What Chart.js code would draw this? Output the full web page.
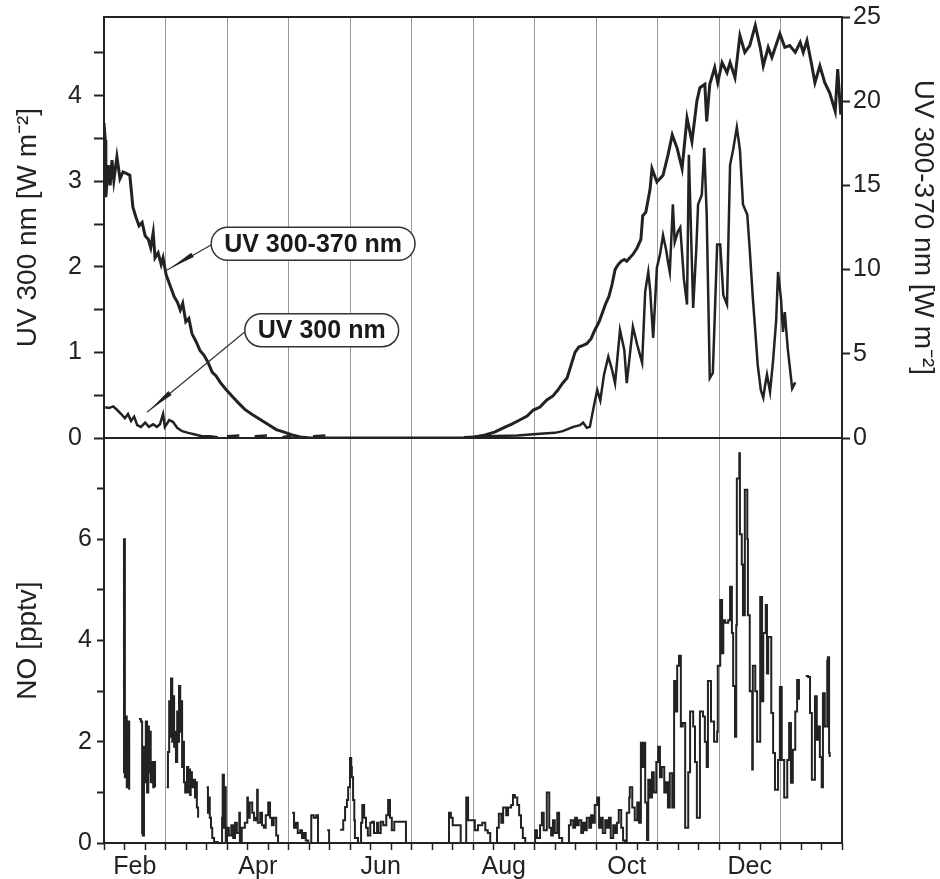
<!DOCTYPE html>
<html>
<head>
<meta charset="utf-8">
<script src="https://cdn.jsdelivr.net/npm/chart.js@4.4.1/dist/chart.umd.min.js"></script>
<style>
  html, body { margin: 0; padding: 0; background: #fff; }
  #wrap { position: relative; width: 940px; height: 879px; overflow: hidden; }
  #wrap canvas { position: absolute; left: 0; }
</style>
</head>
<body>
<div id="wrap">
  <canvas id="uvChart" width="940" height="475" style="top:-10px"></canvas>
  <canvas id="noChart" width="940" height="461" style="top:418px"></canvas>
</div>
<script>
// x is measured in months from 1 Feb (0) to 1 Feb next year (12)
const monthLabels = ['Feb', 'Apr', 'Jun', 'Aug', 'Oct', 'Dec'];
const monthLabelAt = [0.5, 2.5, 4.5, 6.5, 8.5, 10.5];

const uvLeftTicks = [0, 0.5, 1, 1.5, 2, 2.5, 3, 3.5, 4, 4.5];
const uvRightTicks = [0, 5, 10, 15, 20, 25];
const noTicks = [0, 1, 2, 3, 4, 5, 6, 7];

// UV 300-370 nm [W m-2], right axis
const uv370Data = [
  [0.00, 18.7], [0.02, 17.7], [0.03, 14.3], [0.07, 16.2], [0.10, 15.0], [0.13, 16.5], [0.16, 15.3],
  [0.21, 16.7], [0.26, 15.4], [0.31, 15.8], [0.37, 15.7], [0.42, 15.6], [0.47, 13.7], [0.52, 13.1],
  [0.57, 12.6], [0.62, 12.8], [0.67, 12.0], [0.72, 11.8], [0.76, 11.3], [0.80, 12.2], [0.83, 10.7],
  [0.88, 11.0], [0.93, 10.3], [0.96, 10.7], [1.01, 9.7], [1.07, 9.1], [1.14, 8.4], [1.19, 8.1],
  [1.24, 7.6], [1.28, 8.0], [1.33, 6.9], [1.38, 7.1], [1.43, 6.2], [1.50, 5.7], [1.56, 5.2],
  [1.63, 4.9], [1.69, 4.5], [1.76, 3.9], [1.82, 3.7], [1.89, 3.3], [1.98, 2.9], [2.08, 2.5],
  [2.18, 2.1], [2.29, 1.7], [2.41, 1.4], [2.54, 1.1], [2.67, 0.8], [2.80, 0.5], [2.93, 0.35],
  [3.06, 0.18], [3.19, 0.06], [3.35, 0], [4.0, 0], [5.0, 0], [6.0, 0],
  [6.03, 0.06], [6.20, 0.18], [6.36, 0.36], [6.52, 0.65], [6.63, 0.83], [6.76, 1.07], [6.88, 1.3],
  [6.98, 1.66], [7.09, 1.84], [7.20, 2.26], [7.30, 2.5], [7.38, 2.85], [7.46, 3.27], [7.53, 3.56],
  [7.58, 4.16], [7.66, 5.1], [7.72, 5.4], [7.79, 5.5], [7.85, 5.6], [7.92, 5.9], [7.98, 6.4],
  [8.05, 6.9], [8.11, 7.5], [8.16, 8.0], [8.21, 8.4], [8.26, 9.1], [8.31, 10.0], [8.36, 10.3],
  [8.41, 10.5], [8.46, 10.6], [8.50, 10.5], [8.55, 10.7], [8.60, 10.9], [8.67, 11.3], [8.73, 11.8],
  [8.76, 13.2], [8.81, 13.4], [8.88, 14.8], [8.91, 16.0], [8.99, 15.2], [9.09, 15.6], [9.17, 16.8],
  [9.24, 18.0], [9.32, 17.2], [9.40, 16.0], [9.48, 19.0], [9.56, 17.6], [9.64, 20.0], [9.69, 20.8],
  [9.77, 21.0], [9.80, 18.8], [9.85, 21.0], [9.93, 22.0], [9.98, 21.1], [10.05, 22.3], [10.13, 21.7],
  [10.18, 22.3], [10.26, 21.4], [10.34, 23.9], [10.42, 22.9], [10.50, 23.3], [10.59, 24.5],
  [10.67, 23.2], [10.72, 22.1], [10.80, 23.2], [10.86, 22.6], [10.99, 24.0], [11.07, 23.2],
  [11.15, 23.3], [11.24, 22.9], [11.32, 23.5], [11.37, 22.9], [11.43, 23.6], [11.51, 22.1],
  [11.56, 21.1], [11.64, 22.1], [11.72, 21.1], [11.80, 20.5], [11.89, 19.4], [11.93, 21.9], [11.98, 19.2]
];

// UV 300 nm [W m-2], left axis (null = no data)
const uv300Data = [
  [0.02, 0.36], [0.08, 0.35], [0.15, 0.37], [0.21, 0.33], [0.28, 0.28], [0.34, 0.23], [0.39, 0.28],
  [0.44, 0.20], [0.49, 0.25], [0.54, 0.15], [0.60, 0.13], [0.67, 0.18], [0.73, 0.13], [0.80, 0.16],
  [0.86, 0.13], [0.91, 0.16], [0.96, 0.28], [0.99, 0.13], [1.06, 0.21], [1.12, 0.19], [1.19, 0.12],
  [1.27, 0.08], [1.37, 0.06], [1.48, 0.04], [1.59, 0.02], [1.72, 0.02], [1.85, 0.01], [1.90, null],
  [2.00, 0.02], [2.20, 0.03], [2.25, null], [2.45, 0.02], [2.65, 0.03], [2.70, null],
  [2.90, 0.01], [3.05, 0.03], [3.10, null], [3.40, 0.02], [3.60, 0.03], [3.65, null],
  [5.85, 0.01], [6.20, 0.02], [6.72, 0.03], [7.09, 0.05], [7.33, 0.06], [7.46, 0.08], [7.63, 0.13],
  [7.74, 0.15], [7.79, 0.18], [7.85, 0.12], [7.90, 0.13], [7.97, 0.39], [8.02, 0.56], [8.07, 0.44],
  [8.13, 0.74], [8.20, 0.95], [8.26, 0.80], [8.31, 0.64], [8.39, 1.26], [8.46, 1.03], [8.50, 0.64],
  [8.55, 0.97], [8.60, 1.30], [8.67, 1.09], [8.75, 0.88], [8.80, 1.71], [8.85, 1.94], [8.88, 1.73],
  [8.93, 1.17], [8.99, 1.99], [9.04, 2.14], [9.09, 2.37], [9.14, 2.20], [9.17, 2.06], [9.20, 1.94],
  [9.25, 2.73], [9.28, 2.29], [9.33, 2.41], [9.37, 2.46], [9.43, 1.85], [9.48, 1.56], [9.51, 3.31],
  [9.58, 1.52], [9.63, 2.20], [9.66, 2.73], [9.72, 2.84], [9.76, 3.39], [9.80, 2.61], [9.85, 0.70],
  [9.90, 0.76], [9.97, 2.26], [10.02, 2.26], [10.07, 1.67], [10.13, 1.56], [10.18, 3.19], [10.23, 3.37],
  [10.29, 3.63], [10.34, 3.37], [10.39, 2.73], [10.46, 2.61], [10.50, 2.20], [10.55, 1.64], [10.60, 1.15],
  [10.63, 0.85], [10.68, 0.56], [10.72, 0.47], [10.75, 0.62], [10.78, 0.74], [10.83, 0.54], [10.88, 0.91],
  [10.93, 1.38], [10.96, 1.94], [11.01, 1.61], [11.04, 1.24], [11.07, 1.47], [11.12, 1.03], [11.19, 0.58],
  [11.24, 0.65]
];

// NO [pptv] (null = no data)
const noData = [
  [0.31, 1.4], [0.325, 6.0], [0.34, 1.3], [0.355, 2.5], [0.37, 1.1], [0.39, 2.4], [0.41, 1.05], [0.45, null],
  [0.57, 2.45], [0.60, 2.4], [0.62, 0.2], [0.63, 0.15], [0.65, 1.9], [0.67, 1.2], [0.68, 2.4], [0.70, 1.0],
  [0.72, 2.3], [0.73, 1.4], [0.75, 2.2], [0.76, 1.2], [0.78, 1.6], [0.80, 1.1], [0.81, 1.6], [0.83, 1.1],
  [0.86, null],
  [1.02, 1.1], [1.04, 1.8], [1.06, 2.8], [1.07, 2.1], [1.09, 3.25], [1.11, 2.0], [1.12, 2.9], [1.14, 1.9],
  [1.15, 2.2], [1.17, 1.6], [1.19, 2.6], [1.20, 2.0], [1.22, 3.1], [1.24, 2.2], [1.25, 2.8], [1.27, 1.5],
  [1.28, 2.0], [1.30, 1.2], [1.32, 1.0], [1.35, 1.5], [1.37, 1.0], [1.38, 1.45], [1.40, 0.95], [1.41, 1.4],
  [1.43, 1.1], [1.46, 1.25], [1.48, 0.9], [1.50, 1.2], [1.51, 0.7], [1.53, 0.5], [1.56, null],
  [1.67, 1.1], [1.69, 0.6], [1.71, 0.9], [1.72, 0.5], [1.74, 0.3], [1.76, 0.1], [1.79, 0.02], [1.85, 0.0],
  [1.92, 0.5], [1.93, 1.35], [1.95, 0.3], [1.97, 1.1], [1.98, 0.0], [2.00, 0.3], [2.03, 0.15], [2.07, 0.35],
  [2.10, 0.1], [2.13, 0.4], [2.16, 0.2], [2.20, 0.6], [2.21, 0.0], [2.24, 0.3], [2.29, 0.4], [2.33, 0.9],
  [2.34, 0.5], [2.37, 0.8], [2.41, 0.6], [2.44, 0.45], [2.47, 0.5], [2.49, 1.05], [2.50, 0.4], [2.54, 0.6],
  [2.57, 0.35], [2.60, 0.3], [2.63, 0.55], [2.67, 0.8], [2.70, 0.5], [2.73, 0.35], [2.76, 0.5], [2.80, 0.15],
  [2.83, 0.0], [2.86, null],
  [3.06, 0.6], [3.09, 0.3], [3.12, 0.4], [3.15, 0.2], [3.19, 0.25], [3.22, 0.1], [3.25, 0.2], [3.28, 0.05],
  [3.32, 0.0], [3.37, 0.55], [3.41, 0.5], [3.45, 0.55], [3.48, 0.0], [3.52, null], [3.63, 0.25], [3.66, 0.0],
  [3.70, null],
  [3.84, 0.26], [3.89, 0.45], [3.92, 0.71], [3.95, 0.85], [3.97, 1.1], [4.00, 1.68], [4.02, 1.5], [4.03, 1.3],
  [4.05, 0.85], [4.07, 0.45], [4.08, 0.1], [4.13, 0.0], [4.18, 0.4], [4.20, 0.75], [4.23, 0.5], [4.26, 0.3],
  [4.29, 0.15], [4.33, 0.4], [4.36, 0.42], [4.39, 0.2], [4.44, 0.4], [4.46, 0.2], [4.50, 0.42], [4.54, 0.35],
  [4.59, 0.55], [4.62, 0.85], [4.65, 0.5], [4.68, 0.25], [4.72, 0.42], [4.76, 0.42], [4.81, 0.42], [4.89, 0.42],
  [4.91, 0.0], [4.94, null],
  [5.59, 0.0], [5.61, 0.6], [5.64, 0.5], [5.67, 0.35], [5.79, 0.35], [5.80, 0.0], [5.84, 0.0], [5.89, 0.9],
  [5.92, 0.45], [5.98, 0.45], [6.03, 0.25], [6.08, 0.35], [6.15, 0.4], [6.20, 0.25], [6.24, 0.2], [6.28, 0.0],
  [6.34, 0.0], [6.39, 0.3], [6.42, 0.58], [6.46, 0.4], [6.49, 0.7], [6.54, 0.55], [6.57, 0.7], [6.62, 0.75],
  [6.65, 0.95], [6.68, 0.9], [6.72, 0.75], [6.75, 0.55], [6.78, 0.3], [6.81, 0.1], [6.85, 0.0], [6.98, 0.0],
  [7.01, 0.25], [7.04, 0.1], [7.09, 0.35], [7.12, 0.6], [7.15, 0.25], [7.20, 1.0], [7.24, 0.3], [7.27, 0.15],
  [7.30, 0.45], [7.33, 0.2], [7.37, 0.6], [7.40, 0.1], [7.45, 0.0], [7.53, 0.0], [7.56, 0.35], [7.59, 0.45],
  [7.63, 0.3], [7.66, 0.5], [7.69, 0.35], [7.72, 0.45], [7.76, 0.2], [7.79, 0.4], [7.82, 0.25], [7.85, 0.5],
  [7.89, 0.3], [7.92, 0.55], [7.95, 0.4], [7.98, 0.75], [8.02, 0.9], [8.05, 0.3], [8.08, 0.5], [8.11, 0.2],
  [8.15, 0.45], [8.18, 0.3], [8.21, 0.5], [8.24, 0.1], [8.28, 0.35], [8.31, 0.2], [8.34, 0.4], [8.37, 0.65],
  [8.41, 0.3], [8.44, 0.05], [8.47, 0.0], [8.50, 0.6], [8.54, 0.9], [8.55, 1.1], [8.59, 0.7], [8.63, 0.45],
  [8.67, 0.8], [8.70, 0.4], [8.73, 1.98], [8.76, 1.5], [8.79, 1.98], [8.80, 0.8], [8.83, 0.06], [8.85, 1.25],
  [8.88, 0.9], [8.91, 1.4], [8.94, 1.0], [8.98, 1.6], [9.01, 1.9], [9.04, 1.3], [9.07, 1.5], [9.11, 1.0],
  [9.14, 1.2], [9.17, 0.7], [9.20, 1.38], [9.24, 0.7], [9.27, 3.2], [9.30, 2.6], [9.32, 3.5], [9.35, 3.7],
  [9.38, 2.3], [9.41, 2.37], [9.45, 0.3], [9.50, 1.4], [9.53, 2.6], [9.58, 2.3], [9.61, 1.6], [9.64, 0.5],
  [9.69, 2.6], [9.74, 2.5], [9.77, 2.0], [9.80, 1.5], [9.82, 3.2], [9.87, 2.4], [9.92, 2.0], [9.97, 2.2],
  [9.98, 3.5], [10.02, 4.8], [10.05, 3.75], [10.07, 4.4], [10.10, 4.35], [10.15, 4.4], [10.18, 5.06],
  [10.21, 4.15], [10.23, 3.1], [10.26, 2.1], [10.28, 4.3], [10.29, 7.2], [10.33, 7.7], [10.34, 6.1],
  [10.37, 5.5], [10.39, 4.5], [10.42, 6.98], [10.46, 6.0], [10.47, 4.5], [10.50, 3.0], [10.54, 1.45],
  [10.55, 3.5], [10.59, 3.0], [10.62, 2.0], [10.67, 4.86], [10.70, 2.8], [10.72, 4.15], [10.76, 4.7],
  [10.78, 3.35], [10.80, 4.07], [10.85, 2.57], [10.88, 1.78], [10.91, 1.05], [10.96, 1.64], [10.99, 3.08],
  [11.02, 1.64], [11.06, 0.9], [11.11, 1.64], [11.14, 2.37], [11.17, 1.19], [11.20, 1.84], [11.24, 2.6],
  [11.27, 3.22], [11.30, 2.83], [11.33, null], [11.41, 3.3], [11.45, 3.28], [11.48, 2.57], [11.51, 1.25],
  [11.56, 2.9], [11.59, 2.04], [11.61, 2.3], [11.64, 1.7], [11.67, 1.1], [11.69, 2.96], [11.72, 2.3],
  [11.76, 3.6], [11.77, 3.67], [11.79, 1.78], [11.80, 1.7]
];

// callout boxes: [month, left-axis value] for box centre and arrow tip
const calloutText = ['UV 300-370 nm', 'UV 300 nm'];
const calloutAt = [[3.40, 2.27], [3.54, 1.26]];
const calloutTip = [[1.02, 1.96], [0.70, 0.30]];

const FONT = '"Liberation Sans", Arial, Helvetica, sans-serif';
const INK = '#222';
Chart.defaults.font.family = FONT;
Chart.defaults.color = INK;

// tick positions on the month axis: every third of a month, plus label slots
const xTickAt = [];
for (let k = 0; k <= 36; k++) xTickAt.push(k / 3);
monthLabelAt.forEach(v => xTickAt.push(v));
xTickAt.sort((a, b) => a - b);

const toPoints = arr => arr.map(p => ({ x: p[0], y: p[1] }));

const framePlugin = {
  id: 'frame',
  afterDatasetsDraw(chart) {
    const { ctx, chartArea: a } = chart;
    ctx.save();
    ctx.strokeStyle = INK;
    ctx.lineWidth = 2;
    ctx.strokeRect(a.left, a.top, a.right - a.left, a.bottom - a.top);
    ctx.restore();
  }
};

const calloutPlugin = {
  id: 'callouts',
  afterDatasetsDraw(chart) {
    const { ctx, scales: { x, yL } } = chart;
    ctx.save();
    ctx.font = 'bold 25px ' + FONT;
    calloutText.forEach((text, i) => {
      const cx = x.getPixelForValue(calloutAt[i][0]);
      const cy = yL.getPixelForValue(calloutAt[i][1]);
      const tx = x.getPixelForValue(calloutTip[i][0]);
      const ty = yL.getPixelForValue(calloutTip[i][1]);
      const w = ctx.measureText(text).width + 26, h = 33, r = h / 2;
      const bx = cx - w / 2, by = cy - h / 2;

      // leader line with a narrow arrow near the curve
      ctx.strokeStyle = '#333';
      ctx.lineWidth = 1.2;
      ctx.beginPath();
      ctx.moveTo(bx + 2, cy);
      ctx.lineTo(tx, ty);
      ctx.stroke();
      const dx = bx - tx, dy = cy - ty, len = Math.hypot(dx, dy);
      const ux = dx / len, uy = dy / len, nx = -uy, ny = ux;
      ctx.fillStyle = INK;
      ctx.beginPath();
      ctx.moveTo(tx + ux * 4, ty + uy * 4);
      ctx.lineTo(tx + ux * 30 + nx * 2.5, ty + uy * 30 + ny * 2.5);
      ctx.lineTo(tx + ux * 30 - nx * 2.5, ty + uy * 30 - ny * 2.5);
      ctx.closePath();
      ctx.fill();

      // rounded box
      ctx.beginPath();
      ctx.moveTo(bx + r, by);
      ctx.lineTo(bx + w - r, by);
      ctx.arc(bx + w - r, cy, r, -Math.PI / 2, Math.PI / 2);
      ctx.lineTo(bx + r, by + h);
      ctx.arc(bx + r, cy, r, Math.PI / 2, Math.PI * 1.5);
      ctx.closePath();
      ctx.fillStyle = '#fff';
      ctx.fill();
      ctx.lineWidth = 1.5;
      ctx.strokeStyle = '#333';
      ctx.stroke();

      ctx.fillStyle = '#1a1a1a';
      ctx.textAlign = 'center';
      ctx.textBaseline = 'middle';
      ctx.fillText(text, cx, cy + 1);
    });
    ctx.restore();
  }
};

function monthAxis(showTicks) {
  return {
    type: 'linear',
    min: 0,
    max: 12,
    afterBuildTicks: s => { s.ticks = xTickAt.map(v => ({ value: v })); },
    afterFit: s => { s.height = showTicks ? 36 : 0; },
    border: { display: false },
    grid: {
      color: c => (c.tick && Number.isInteger(c.tick.value)) ? '#9a9a9a' : 'rgba(0,0,0,0)',
      lineWidth: 1,
      drawTicks: showTicks,
      tickLength: 7,
      tickWidth: 1.5,
      tickColor: c => (c.tick && monthLabelAt.includes(c.tick.value)) ? 'rgba(0,0,0,0)' : INK
    },
    ticks: {
      display: showTicks,
      autoSkip: false,
      maxRotation: 0,
      minRotation: 0,
      padding: 2,
      color: INK,
      font: { size: 25 },
      callback: v => {
        const i = monthLabelAt.indexOf(v);
        return i >= 0 ? monthLabels[i] : '';
      }
    }
  };
}

function valueAxis(opts) {
  return {
    type: 'linear',
    position: opts.position,
    min: 0,
    max: opts.max,
    afterBuildTicks: s => { s.ticks = opts.ticks.map(v => ({ value: v })); },
    afterFit: s => { s.width = opts.width; },
    border: { display: false },
    grid: {
      drawOnChartArea: false,
      drawTicks: true,
      tickLength: opts.tickLength,
      tickWidth: 2,
      tickColor: INK
    },
    ticks: {
      padding: opts.padding,
      color: INK,
      font: { size: 25 },
      callback: opts.label
    },
    title: {
      display: true,
      text: opts.title,
      color: INK,
      font: { size: 28 },
      padding: { top: opts.titlePad, bottom: 0 }
    }
  };
}

new Chart(document.getElementById('uvChart'), {
  type: 'line',
  data: {
    datasets: [
      {
        label: 'UV 300-370 nm',
        data: toPoints(uv370Data),
        yAxisID: 'yR',
        borderColor: INK,
        borderWidth: 3,
        pointRadius: 0,
        tension: 0,
        spanGaps: false
      },
      {
        label: 'UV 300 nm',
        data: toPoints(uv300Data),
        yAxisID: 'yL',
        borderColor: INK,
        borderWidth: 2.5,
        pointRadius: 0,
        tension: 0,
        spanGaps: false
      }
    ]
  },
  options: {
    animation: false,
    responsive: false,
    maintainAspectRatio: false,
    events: [],
    layout: { padding: { top: 0, bottom: 27, left: 0, right: 0 } },
    scales: {
      x: monthAxis(false),
      yL: valueAxis({
        position: 'left', max: 4.92, ticks: uvLeftTicks, width: 104,
        tickLength: 10, padding: 12, titlePad: 11,
        title: 'UV 300 nm [W m\u207B\u00B2]',
        label: v => Number.isInteger(v) ? String(v) : ''
      }),
      yR: valueAxis({
        position: 'right', max: 25, ticks: uvRightTicks, width: 98,
        tickLength: 8, padding: 3, titlePad: 0,
        title: 'UV 300-370 nm [W m\u207B\u00B2]',
        label: v => String(v)
      })
    },
    plugins: { legend: { display: false }, tooltip: { enabled: false } }
  },
  plugins: [framePlugin, calloutPlugin]
});

new Chart(document.getElementById('noChart'), {
  type: 'line',
  data: {
    datasets: [{
      label: 'NO',
      data: toPoints(noData),
      yAxisID: 'y',
      borderColor: INK,
      borderWidth: 2,
      pointRadius: 0,
      stepped: true,
      spanGaps: false
    }]
  },
  options: {
    animation: false,
    responsive: false,
    maintainAspectRatio: false,
    events: [],
    layout: { padding: { top: 20, bottom: 0, left: 0, right: 98 } },
    scales: {
      x: monthAxis(true),
      y: valueAxis({
        position: 'left', max: 8, ticks: noTicks, width: 104,
        tickLength: 7, padding: 5, titlePad: 11,
        title: 'NO [pptv]',
        label: v => (v % 2 === 0) ? String(v) : ''
      })
    },
    plugins: { legend: { display: false }, tooltip: { enabled: false } }
  },
  plugins: [framePlugin]
});
</script>
</body>
</html>
